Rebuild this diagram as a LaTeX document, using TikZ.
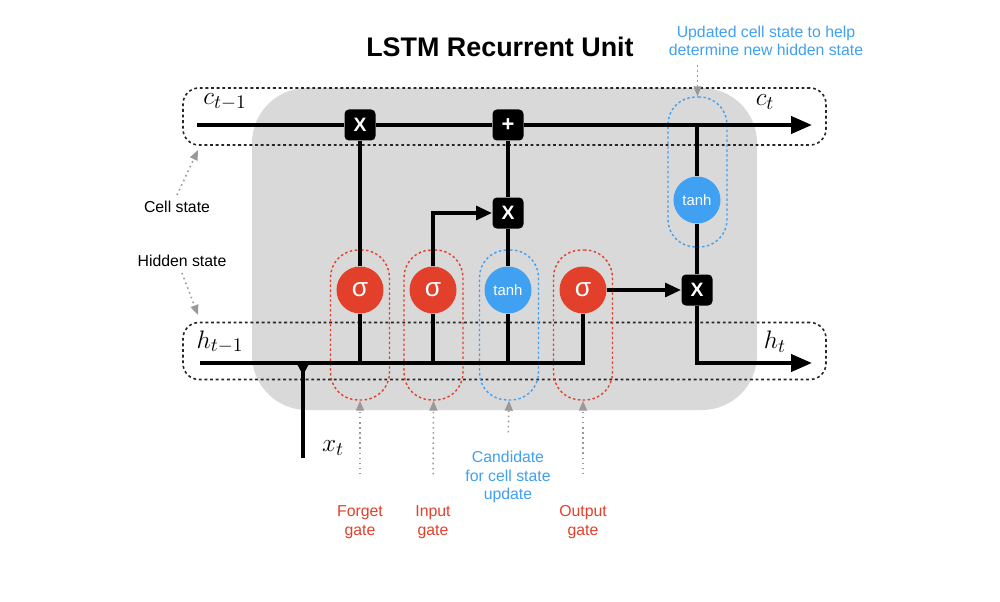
\documentclass[tikz,border=0pt]{standalone}
\usepackage{fontspec}
\setmainfont{Liberation Sans}
\usetikzlibrary{arrows.meta}
\definecolor{gatered}{HTML}{E2402B}
\definecolor{candblue}{HTML}{40A0F2}
\definecolor{unitgray}{HTML}{D9D9D9}
\definecolor{notegray}{HTML}{999999}
\begin{document}
\begin{tikzpicture}[
    >={Triangle[length=0.42cm,width=0.34cm]},
    flow/.style={line width=2.3pt, draw=black},
    feed/.style={flow, -{Triangle[length=0.32cm,width=0.27cm]}},
    op/.style={
        fill=black,
        text=white,
        rounded corners=2.5pt,
        minimum size=0.62cm,
        inner sep=0pt,
        font=\bfseries\fontsize{11}{11}\selectfont
    },
    act/.style={circle, minimum size=0.94cm, inner sep=0pt, text=white},
    sig/.style={act, fill=gatered, font=\fontsize{15}{15}\selectfont},
    th/.style={act, fill=candblue, font=\fontsize{8.5}{9}\selectfont},
    statebox/.style={
        draw=black!85,
        dash pattern=on 1.6pt off 1.6pt,
        line width=0.9pt,
        rounded corners=0.32cm,
        minimum width=12.86cm,
        minimum height=1.14cm
    },
    gatebox/.style={
        dash pattern=on 1.4pt off 1.4pt,
        line width=0.8pt,
        rounded corners=0.55cm,
        minimum width=1.18cm,
        minimum height=3cm
    },
    note/.style={-{Triangle[length=0.2cm,width=0.16cm]}, draw=notegray, dotted, line width=0.9pt},
    txt/.style={align=center, font=\fontsize{9}{10.5}\selectfont},
    var/.style={font=\fontsize{15}{15}\selectfont}
]
    \useasboundingbox (0,0) rectangle (20,-12.04);
    \fill[unitgray, rounded corners=1.1cm] (5.04,-1.76) rectangle (15.14,-8.2);

    \node[font=\bfseries\fontsize{15.3}{17}\selectfont] (title) at (10,-0.94) {LSTM Recurrent Unit};

    % state lanes
    \node[statebox] (cellbox) at (10.09,-2.33) {};
    \node[statebox] (hidbox) at (10.09,-7.02) {};

    % gate outlines
    \node[gatebox, draw=gatered] (fbox) at (7.2,-6.5) {};
    \node[gatebox, draw=gatered] (ibox) at (8.67,-6.5) {};
    \node[gatebox, draw=candblue] (cbox) at (10.18,-6.5) {};
    \node[gatebox, draw=gatered] (obox) at (11.66,-6.5) {};
    \node[gatebox, draw=candblue] (tbox) at (13.95,-3.44) {};

    \node[op] (fmul) at (7.2,-2.5) {X};
    \node[op, font=\bfseries\fontsize{12.5}{12}\selectfont] (add) at (10.16,-2.5) {+};
    \node[op] (imul) at (10.16,-4.26) {X};
    \node[op] (omul) at (13.94,-5.8) {X};

    \node[sig] (fsig) at (7.2,-5.8) {σ};
    \node[sig] (isig) at (8.66,-5.8) {σ};
    \node[th] (ctanh) at (10.16,-5.8) {tanh};
    \node[sig] (osig) at (11.66,-5.8) {σ};
    \node[th] (htanh) at (13.94,-4.0) {tanh};

    \coordinate (cin) at (3.94,-2.5);
    \coordinate (cout) at (16.24,-2.5);
    \coordinate (cjoin) at (13.94,-2.5);
    \coordinate (hin) at (4.0,-7.26);
    \coordinate (hout) at (16.24,-7.26);
    \coordinate (hjoin) at (6.06,-7.26);
    \coordinate (xin) at (6.06,-9.16);

    % cell state path
    \draw[flow] (cin) -- (fmul) -- (add);
    \draw[flow, ->] (add) -- (cout);
    \draw[flow] (cjoin) -- (htanh) -- (omul);
    \draw[flow, ->] (omul) |- (hout);

    % hidden state and input
    \draw[flow] (hin) -| (osig);
    \draw[flow] (xin) -- (hjoin);
    \fill ([xshift=-0.13cm]hjoin) -- ([xshift=0.13cm]hjoin) -- ([yshift=-0.24cm]hjoin) -- cycle;
    \draw[flow] (fsig) -- (fsig |- hin);
    \draw[flow] (isig) -- (isig |- hin);
    \draw[flow] (ctanh) -- (ctanh |- hin);
    \draw[flow] (fsig) -- (fmul);
    \draw[feed] (isig) |- (imul);
    \draw[flow] (ctanh) -- (imul) -- (add);
    \draw[feed] (osig) -- (omul);

    \node[var] (cprev) at (4.5,-2.04) {$c_{t-1}$};
    \node[var] (cnext) at (15.3,-2.04) {$c_t$};
    \node[var] (hprev) at (4.4,-6.84) {$h_{t-1}$};
    \node[var] (hnext) at (15.5,-6.84) {$h_t$};
    \node[var] (xcur) at (6.66,-8.96) {$x_t$};

    % annotations
    \node[txt] (celllbl) at (3.54,-4.14) {Cell state};
    \node[txt] (hidlbl) at (3.64,-5.22) {Hidden state};
    \node[txt, text=gatered] (fglbl) at (7.2,-10.44) {Forget\\gate};
    \node[txt, text=gatered] (iglbl) at (8.66,-10.44) {Input\\gate};
    \node[txt, text=candblue] (cdlbl) at (10.16,-9.54) {Candidate\\for cell state\\update};
    \node[txt, text=gatered] (oglbl) at (11.66,-10.44) {Output\\gate};
    \node[txt, text=candblue] (updlbl) at (15.32,-0.82) {Updated cell state to help\\determine new hidden state};

    \coordinate (cellpt) at (3.96,-3.0);
    \coordinate (hidpt) at (3.96,-6.3);
    \coordinate (updpt) at (13.95,-1.3);

    \draw[note] (celllbl.north) -- (cellpt);
    \draw[note] (hidlbl.south) -- (hidpt);
    \draw[note, shorten <=0.5cm] (fglbl.north) -- (fbox.south);
    \draw[note, shorten <=0.5cm] (iglbl.north) -- (ibox.south);
    \draw[note, shorten <=0.25cm] (cdlbl.north) -- (cbox.south);
    \draw[note, shorten <=0.5cm] (oglbl.north) -- (obox.south);
    \draw[note] (updpt) -- (tbox.north);
\end{tikzpicture}
\end{document}
